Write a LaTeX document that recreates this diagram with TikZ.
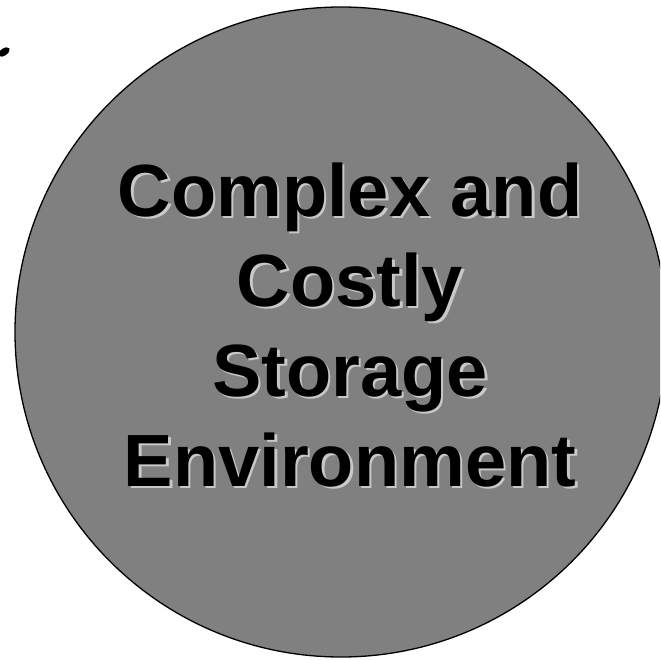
\documentclass[tikz,border=0pt]{standalone}
\usepackage{fontspec}
\usepackage{tikz}
\setmainfont{Liberation Sans}
\definecolor{blobgray}{RGB}{128,128,128}
\definecolor{shadowgray}{RGB}{200,200,200}

\begin{document}
\begin{tikzpicture}[
    x=1pt, y=-1pt,
    blob/.style={draw=black, line width=1.3pt, fill=blobgray},
    title/.style={align=center, inner sep=0pt, font=\fontsize{74}{90}\selectfont\bfseries},
]

% Frame
\useasboundingbox (0,0) rectangle (660,660);
\clip (0,0) rectangle (660,660);

% Grey disc
\draw[blob] (341,332) ellipse [x radius=326, y radius=325];

% Stray mark at the top left
\fill[black, rotate around={35:(4,52)}] (4,52) ellipse [x radius=6.5, y radius=3.5];

% Title with its shadow
\node[title, text=shadowgray] (envshadow) at (352.5,327.5) {Complex and\\Costly\\Storage\\Environment};
\node[title, text=black] (envtext) at (350,325) {Complex and\\Costly\\Storage\\Environment};

\end{tikzpicture}
\end{document}
